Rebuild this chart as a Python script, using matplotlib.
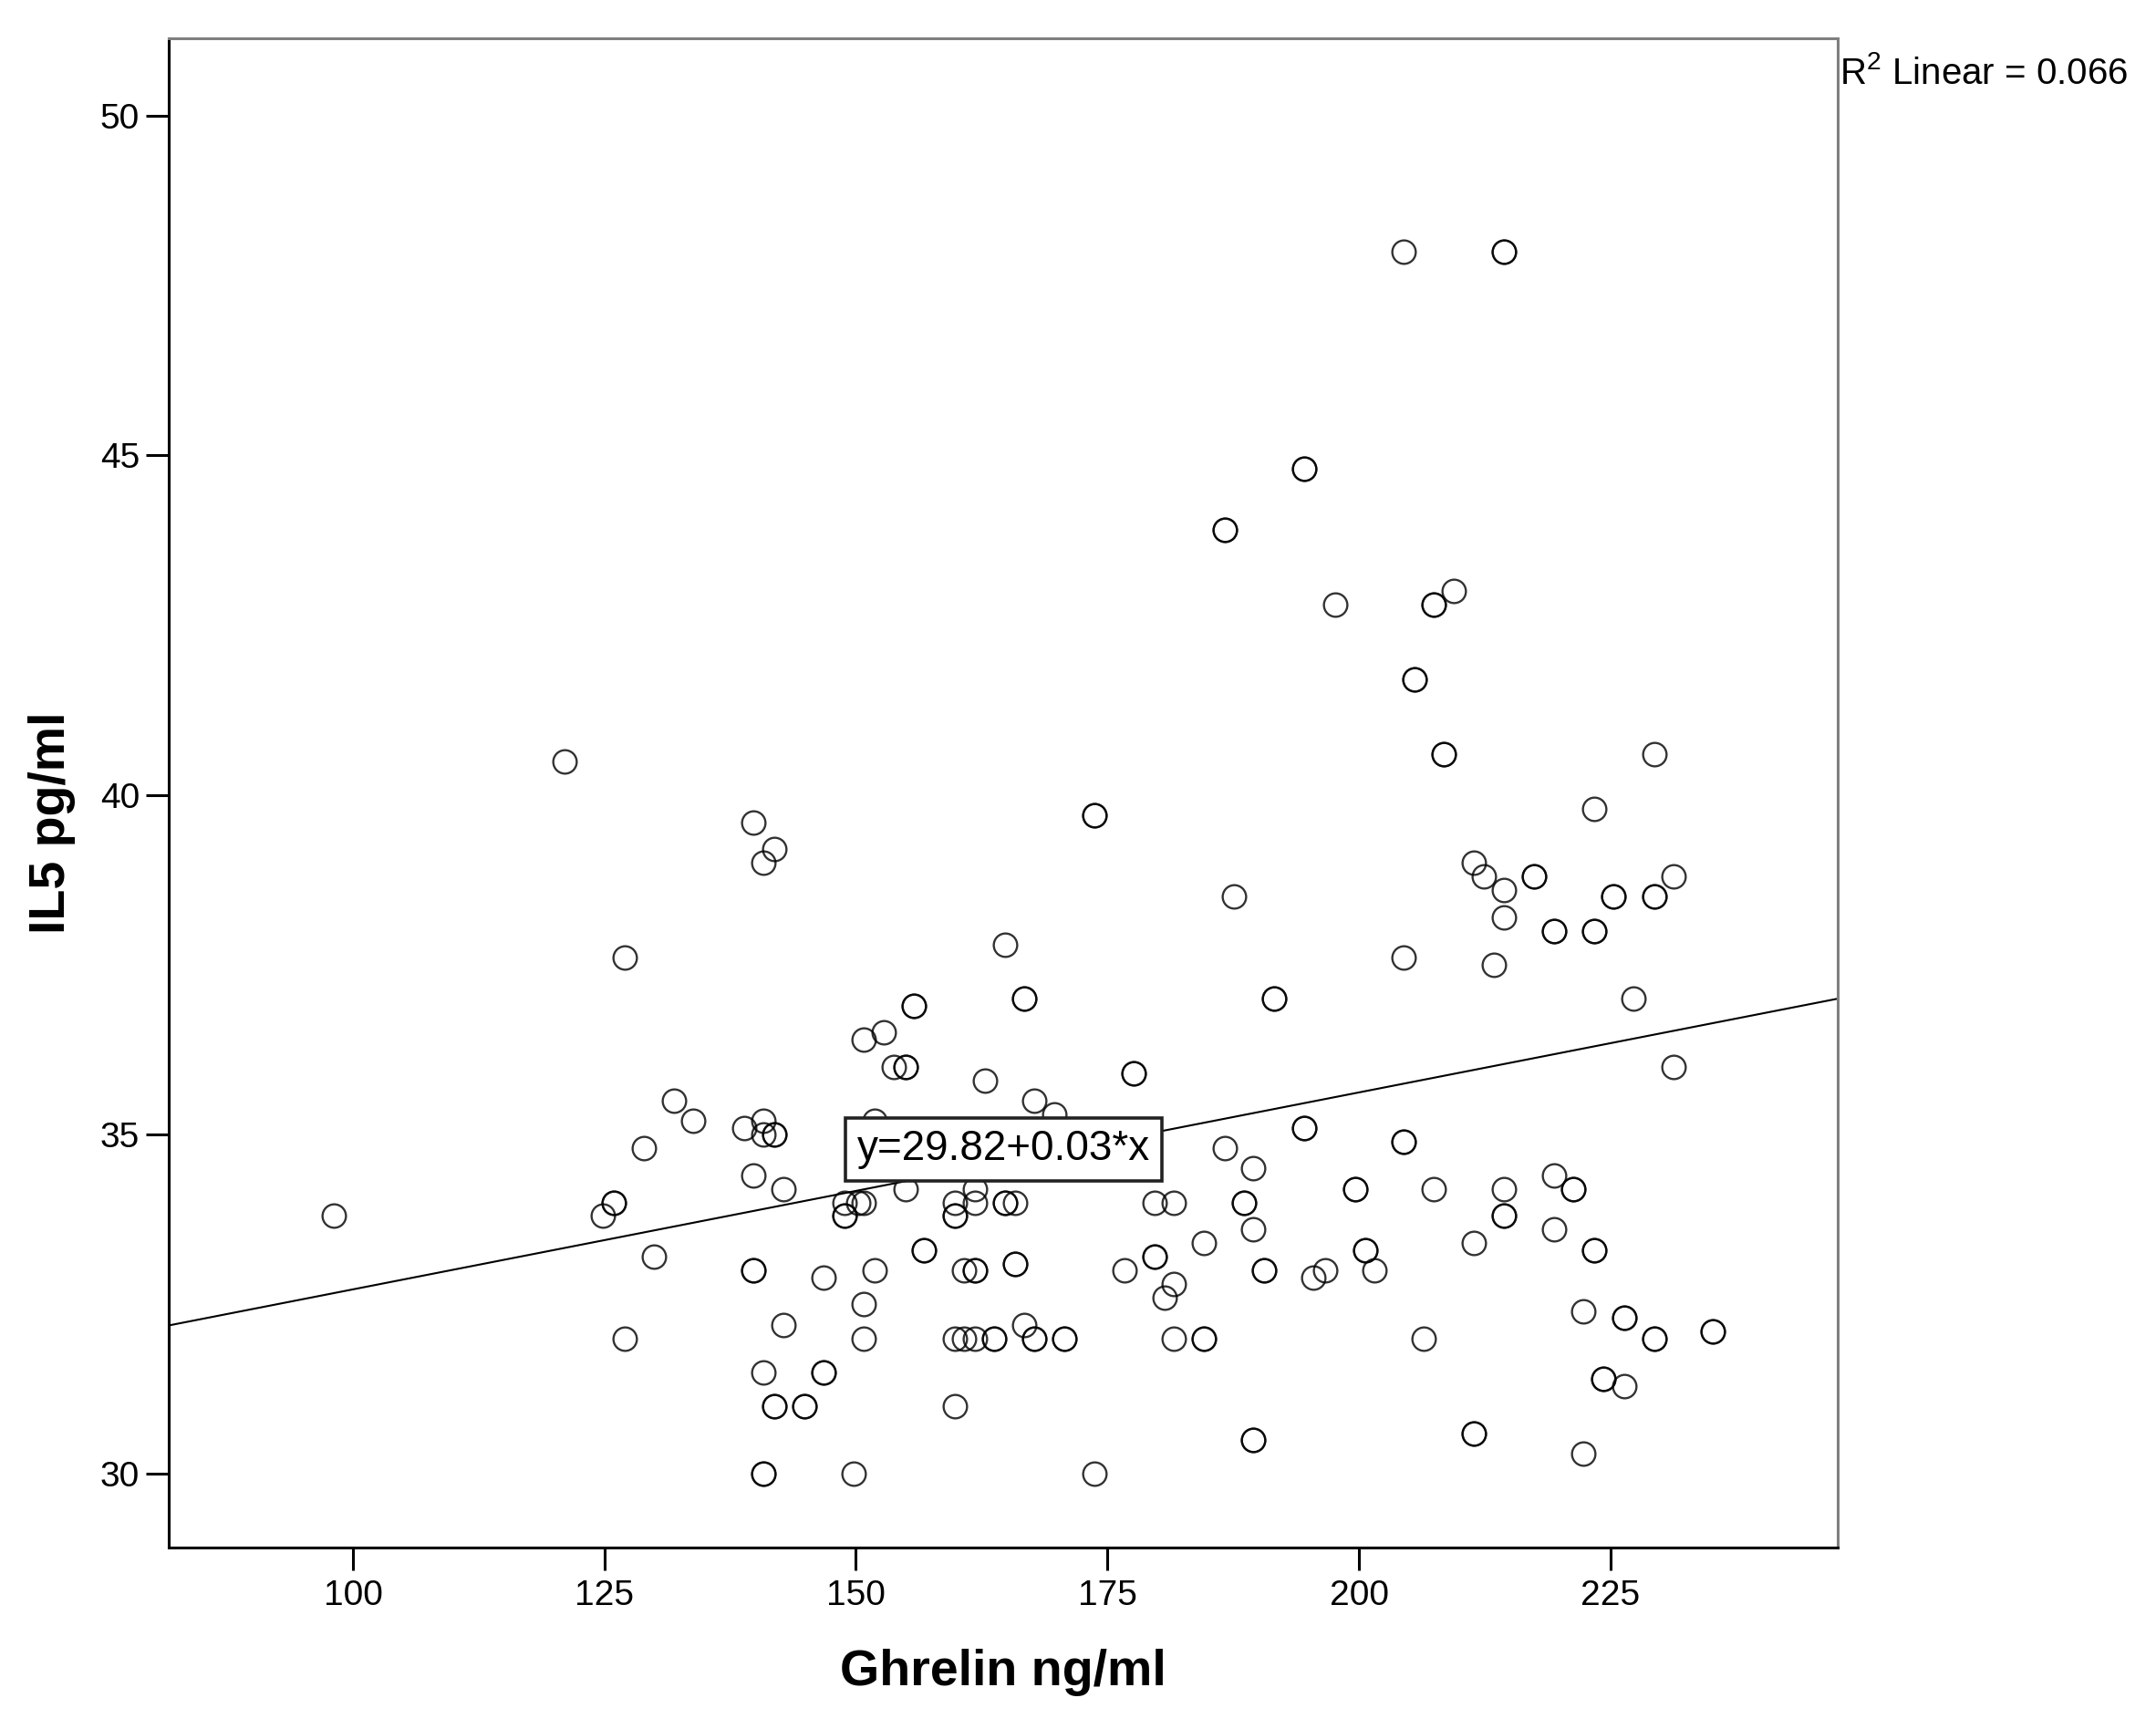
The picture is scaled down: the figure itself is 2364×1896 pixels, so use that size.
import matplotlib.pyplot as plt

plt.rcParams['font.family'] = ['Liberation Sans', 'DejaVu Sans']
plt.rcParams['mathtext.fontset'] = 'custom'
plt.rcParams['mathtext.rm'] = 'Liberation Sans'
plt.rcParams['mathtext.it'] = 'Liberation Sans'

# cases (repeated values = overlapping cases)
ghrelin = [98.1, 121.0, 127.0, 124.8, 125.9, 125.9, 127.0, 128.9, 129.9, 131.9,
           133.8, 138.9, 139.8, 139.8, 139.8, 139.8, 140.8, 141.9, 140.8, 140.8,
           141.9, 141.9, 142.8, 142.8, 140.8, 141.9, 141.9, 144.9, 144.9, 140.8,
           140.8, 146.8, 146.8, 146.8, 148.9, 148.9, 148.9, 150.2, 150.8, 150.8,
           150.8, 149.8, 151.9, 150.8, 152.8, 153.8, 154.9, 154.9, 155.8, 155.8,
           151.9, 154.9, 156.8, 156.8, 159.8, 159.8, 159.8, 161.8, 161.8, 160.7,
           161.8, 161.8, 159.8, 160.7, 161.8, 159.8, 162.8, 163.7, 163.7, 164.8,
           164.8, 164.8, 165.8, 165.8, 165.8, 166.7, 166.7, 166.7, 167.7, 167.7,
           167.7, 169.7, 170.7, 170.7, 173.7, 173.7, 173.7, 176.7, 177.6, 177.6,
           179.7, 179.7, 179.7, 180.7, 181.6, 181.6, 181.6, 184.6, 184.6, 184.6,
           186.7, 186.7, 186.7, 187.6, 188.6, 188.6, 189.5, 189.5, 189.5, 189.5,
           190.6, 190.6, 191.6, 191.6, 194.6, 194.6, 194.6, 194.6, 195.5, 196.6,
           197.6, 199.6, 199.6, 200.6, 200.6, 201.5, 204.4, 204.4, 204.4, 204.4,
           205.5, 205.5, 206.4, 207.4, 207.4, 207.4, 208.4, 208.4, 209.4, 211.4,
           212.4, 211.4, 211.4, 211.4, 213.4, 214.4, 214.4, 214.4, 214.4, 214.4,
           214.4, 214.4, 217.4, 217.4, 219.4, 219.4, 219.4, 219.4, 221.3, 221.3,
           222.3, 222.3, 223.4, 223.4, 223.4, 223.4, 223.4, 224.3, 224.3, 225.3,
           225.3, 226.4, 226.4, 226.4, 227.3, 229.4, 229.4, 229.4, 229.4, 229.4,
           231.3, 231.3, 235.2, 235.2]
il5 = [33.8, 40.5, 37.6, 33.8, 34.0, 34.0, 32.0, 34.8, 33.2, 35.5,
       35.2, 35.1, 39.6, 34.4, 33.0, 33.0, 39.0, 39.2, 35.2, 35.0,
       35.0, 35.0, 34.2, 32.2, 31.5, 31.0, 31.0, 31.0, 31.0, 30.0,
       30.0, 32.9, 31.5, 31.5, 34.0, 33.8, 33.8, 34.0, 34.0, 32.5,
       32.0, 30.0, 33.0, 36.4, 36.5, 36.0, 36.0, 36.0, 36.9, 36.9,
       35.2, 34.2, 33.3, 33.3, 34.0, 33.8, 33.8, 34.2, 34.0, 33.0,
       33.0, 33.0, 32.0, 32.0, 32.0, 31.0, 35.8, 32.0, 32.0, 37.8,
       34.0, 34.0, 34.0, 33.1, 33.1, 37.0, 37.0, 32.2, 35.5, 32.0,
       32.0, 35.3, 32.0, 32.0, 39.7, 39.7, 30.0, 33.0, 35.9, 35.9,
       34.0, 33.2, 33.2, 32.6, 32.8, 34.0, 32.0, 33.4, 32.0, 32.0,
       43.9, 43.9, 34.8, 38.5, 34.0, 34.0, 34.5, 33.6, 30.5, 30.5,
       33.0, 33.0, 37.0, 37.0, 44.8, 44.8, 35.1, 35.1, 32.9, 33.0,
       42.8, 34.2, 34.2, 33.3, 33.3, 33.0, 48.0, 37.6, 34.9, 34.9,
       41.7, 41.7, 32.0, 42.8, 42.8, 34.2, 40.6, 40.6, 43.0, 39.0,
       38.8, 33.4, 30.6, 30.6, 37.5, 48.0, 48.0, 38.6, 38.2, 34.2,
       33.8, 33.8, 38.8, 38.8, 38.0, 38.0, 34.4, 33.6, 34.2, 34.2,
       32.4, 30.3, 39.8, 38.0, 38.0, 33.3, 33.3, 31.4, 31.4, 38.5,
       38.5, 32.3, 32.3, 31.3, 37.0, 40.6, 38.5, 38.5, 32.0, 32.0,
       38.8, 36.0, 32.1, 32.1]

intercept = 29.82
slope = 0.029
r2_text = 'R$^2$ Linear = 0.066'
eq_text = 'y=29.82+0.03*x'

x_ticks = [100, 125, 150, 175, 200, 225]
y_ticks = [30, 35, 40, 45, 50]

fig = plt.figure(figsize=(23.64, 18.96), dpi=100)
ax = fig.add_axes([0.0783, 0.1050, 0.7741, 0.8728])

ax.plot(ghrelin, il5, linestyle='none', marker='o', ms=18.5, mfc='none',
        mec='black', mew=1.7, alpha=0.8)

ax.set_xlim(81.7, 247.6)
ax.set_ylim(28.92, 51.14)

# fit line across the whole x range
x0, x1 = ax.get_xlim()
ax.plot([x0, x1], [intercept + slope * x0, intercept + slope * x1],
        color='black', lw=1.5)

ax.text(164.65, 34.78, eq_text, ha='center', va='center', fontsize=33,
        bbox=dict(boxstyle='square,pad=0.28', fc='white', ec='#222222', lw=2.6),
        zorder=5)

fig.text(2017 / 2364, 1 - 92 / 1896, r2_text, ha='left', va='baseline',
         fontsize=29)

ax.set_xticks(x_ticks)
ax.set_yticks(y_ticks)
ax.tick_params(axis='both', direction='out', length=18, width=2.2,
               labelsize=28, color='black')
ax.tick_params(axis='x', pad=7)
ax.tick_params(axis='y', pad=5)

for side in ['left', 'bottom']:
    ax.spines[side].set_linewidth(2.2)
    ax.spines[side].set_color('black')
for side in ['top', 'right']:
    ax.spines[side].set_linewidth(2.2)
    ax.spines[side].set_color('#7f7f7f')

ax.set_xlabel('Ghrelin ng/ml', fontsize=40, fontweight='bold')
ax.set_ylabel('IL5 pg/ml', fontsize=40, fontweight='bold')
ax.xaxis.set_label_coords(0.5, -0.067)
ax.yaxis.set_label_coords(-0.056, 0.48)

plt.savefig('out.png', dpi=100)
plt.close()
